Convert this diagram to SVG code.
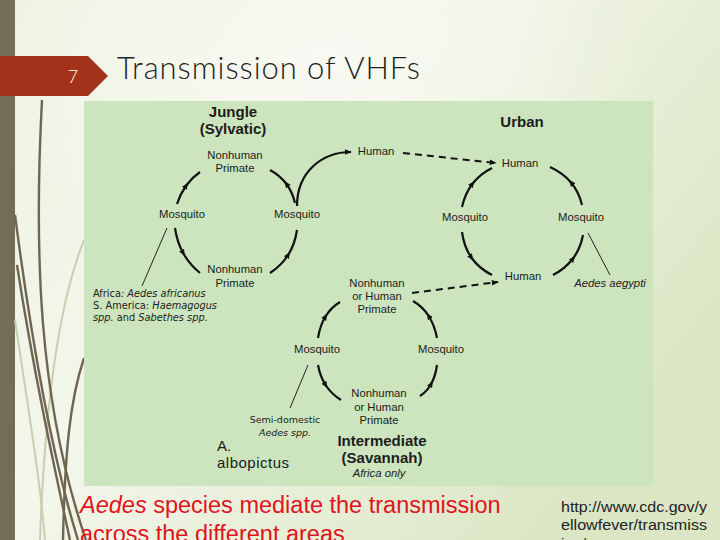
<svg xmlns="http://www.w3.org/2000/svg" width="720" height="540" viewBox="0 0 720 540">
  <defs>
    <linearGradient id="bg" x1="0" y1="0" x2="1" y2="0.6">
      <stop offset="0" stop-color="#eef3e2"/>
      <stop offset="0.45" stop-color="#f3f6ea"/>
      <stop offset="1" stop-color="#dbe6c4"/>
    </linearGradient>
    <radialGradient id="glow" cx="0.45" cy="0.12" r="0.45">
      <stop offset="0" stop-color="#f8faf3" stop-opacity="0.9"/>
      <stop offset="1" stop-color="#f8faf3" stop-opacity="0"/>
    </radialGradient>
    <marker id="mid" viewBox="0 0 10 10" refX="5" refY="5" markerWidth="7" markerHeight="7" markerUnits="userSpaceOnUse" orient="auto">
      <path d="M0,1 L10,5 L0,9 z" fill="#111"/>
    </marker>
    <marker id="head" viewBox="0 0 10 10" refX="9" refY="5" markerWidth="7" markerHeight="7" markerUnits="userSpaceOnUse" orient="auto">
      <path d="M0,1 L10,5 L0,9 z" fill="#111"/>
    </marker>
    <style>
      .lbl { font-family: "Liberation Sans", Arial, sans-serif; font-size: 11.3px; fill: #1c1c1c; text-anchor: middle; }
      .hdr { font-family: "Liberation Sans", Arial, sans-serif; font-size: 15px; font-weight: bold; fill: #1c1c1c; text-anchor: middle; }
      .vd { font-family: "DejaVu Sans", Verdana, sans-serif; fill: #1c1c1c; }
      .it { font-style: italic; }
      .arc { fill: none; stroke: #111; stroke-width: 2.2; marker-mid: url(#mid); }
      .ptr { fill: none; stroke: #222; stroke-width: 1; }
      .dash { fill: none; stroke: #111; stroke-width: 2; stroke-dasharray: 7 5; marker-end: url(#head); }
      .deco { fill: none; stroke: #6e6650; stroke-width: 2.4; }
      .decol { fill: none; stroke: #c9ceb3; stroke-width: 2; }
    </style>
  </defs>

  <!-- background -->
  <rect x="0" y="0" width="720" height="540" fill="url(#bg)"/>
  <rect x="0" y="0" width="720" height="540" fill="url(#glow)"/>
  <rect x="0" y="0" width="15" height="540" fill="#746c57"/>

  <!-- decorative strokes -->
  <g id="decoration">
    <path class="decol" d="M84,240 C60,300 45,400 40,540"/>
    <path class="decol" d="M15,320 C30,420 40,480 45,540"/>
    <path class="deco" d="M42,100 C34,250 38,400 86,540"/>
    <path class="deco" d="M15,215 C30,330 50,450 78,540"/>
    <path class="deco" d="M17,265 C35,380 55,470 70,540"/>
    <path class="deco" d="M84,358 C70,400 65,450 63,540"/>
  </g>

  <!-- header -->
  <g id="slide-number">
    <path d="M0,56 L88,56 L108,76 L88,96 L0,96 z" fill="#a3321a"/>
    <text x="73" y="83" font-family="Lato, 'Open Sans', sans-serif" font-weight="300" font-size="18" fill="#ffffff" text-anchor="middle">7</text>
  </g>
  <g id="title">
    <text x="117" y="79" font-family="Lato, 'Open Sans', sans-serif" font-weight="300" font-size="31" fill="#222222" textLength="303" lengthAdjust="spacing">Transmission of VHFs</text>
  </g>

  <!-- diagram panel -->
  <rect id="panel" x="84" y="101" width="569" height="385" fill="#cde5be"/>

  <!-- connectors -->
  <g id="connectors">
    <!-- Jungle cycle -->
    <path class="arc" d="M177,204 Q180.5,193.5 186.25,185.5 Q192,177.5 200,172"/>
    <path class="arc" d="M295,203 Q292.5,192 286.25,183.75 Q280,175.5 270,170"/>
    <path class="arc" d="M175,228 Q177,242 183.25,253.25 Q189.5,264.5 200,273"/>
    <path class="arc" d="M270,273 Q281.5,265.5 288.25,254.75 Q295,244 297,230"/>
    <path fill="none" stroke="#111" stroke-width="2.2" marker-end="url(#head)" d="M297,206 C297,172 322,152 351,152"/>
    <!-- Urban cycle -->
    <path class="arc" d="M462,207 Q465,193.5 472.5,183.75 Q480,174 492,168"/>
    <path class="arc" d="M582,205 Q579,192 571,182.5 Q563,173 550,167"/>
    <path class="arc" d="M462,232 Q464,247 471.5,257.75 Q479,268.5 492,275"/>
    <path class="arc" d="M553,275 Q565.5,268.5 573,258.5 Q580.5,248.5 583,235"/>
    <!-- Intermediate cycle -->
    <path class="arc" d="M318,338 Q320,325.5 325.5,316.5 Q331,307.5 340,302"/>
    <path class="arc" d="M437,338 Q434.5,325 428.5,315.75 Q422.5,306.5 413,301"/>
    <path class="arc" d="M318,365 Q320,376.5 325.75,385.25 Q331.5,394 341,400"/>
    <path class="arc" d="M420,396 Q427,391.5 431.25,383.75 Q435.5,376 437,365"/>
    <!-- dashed links -->
    <path class="dash" d="M403,153 L496,163"/>
    <path class="dash" d="M412,293 L498,282"/>
    <!-- species pointers -->
    <path class="ptr" d="M167,228 L142,286"/>
    <path class="ptr" d="M588,233 L610,275"/>
    <path class="ptr" d="M308,365 L290,408"/>
  </g>

  <!-- Jungle -->
  <g id="jungle-title">
    <text class="hdr" x="233" y="117">Jungle</text>
    <text class="hdr" x="233" y="134">(Sylvatic)</text>
  </g>
  <g id="jungle-primate-top">
    <text class="lbl" x="235" y="159">Nonhuman</text>
    <text class="lbl" x="235" y="172">Primate</text>
  </g>
  <g id="jungle-mosquito-left"><text class="lbl" x="182" y="218">Mosquito</text></g>
  <g id="jungle-mosquito-right"><text class="lbl" x="297" y="218">Mosquito</text></g>
  <g id="jungle-primate-bottom">
    <text class="lbl" x="235" y="273">Nonhuman</text>
    <text class="lbl" x="235" y="287">Primate</text>
  </g>
  <g id="jungle-human"><text class="lbl" x="376" y="155">Human</text></g>
  <g id="jungle-species">
    <text class="vd" x="93" y="297" font-size="9.8">Africa<tspan class="it">: Aedes africanus</tspan></text>
    <text class="vd" x="93" y="309" font-size="9.8">S. America: <tspan class="it">Haemagogus</tspan></text>
    <text class="vd" x="93" y="321" font-size="9.8"><tspan class="it">spp.</tspan> and <tspan class="it">Sabethes spp.</tspan></text>
  </g>

  <!-- Urban -->
  <g id="urban-title"><text class="hdr" x="522" y="127">Urban</text></g>
  <g id="urban-human-top"><text class="lbl" x="520" y="167">Human</text></g>
  <g id="urban-mosquito-left"><text class="lbl" x="465" y="221">Mosquito</text></g>
  <g id="urban-mosquito-right"><text class="lbl" x="581" y="221">Mosquito</text></g>
  <g id="urban-human-bottom"><text class="lbl" x="523" y="280">Human</text></g>
  <g id="urban-species"><text class="lbl it" x="610" y="287" font-size="11">Aedes aegypti</text></g>

  <!-- Intermediate -->
  <g id="intermediate-primate-top">
    <text class="lbl" x="377" y="287">Nonhuman</text>
    <text class="lbl" x="377" y="300">or Human</text>
    <text class="lbl" x="377" y="313">Primate</text>
  </g>
  <g id="intermediate-mosquito-left"><text class="lbl" x="317" y="353">Mosquito</text></g>
  <g id="intermediate-mosquito-right"><text class="lbl" x="441" y="353">Mosquito</text></g>
  <g id="intermediate-primate-bottom">
    <text class="lbl" x="379" y="397">Nonhuman</text>
    <text class="lbl" x="379" y="411">or Human</text>
    <text class="lbl" x="379" y="424">Primate</text>
  </g>
  <g id="intermediate-species">
    <text class="vd" x="285" y="423" font-size="9.5" text-anchor="middle">Semi-domestic</text>
    <text class="vd it" x="285" y="436" font-size="9.5" text-anchor="middle">Aedes spp.</text>
  </g>
  <g id="intermediate-title">
    <text class="hdr" x="382" y="446">Intermediate</text>
    <text class="hdr" x="382" y="463">(Savannah)</text>
    <text class="lbl it" x="379" y="477" font-size="10.5">Africa only</text>
  </g>
  <g id="albopictus">
    <text x="217" y="451" font-family="'Liberation Sans', Arial, sans-serif" font-size="15" fill="#1a1a1a">A.</text>
    <text x="217" y="468" font-family="'Liberation Sans', Arial, sans-serif" font-size="15" fill="#1a1a1a" textLength="72" lengthAdjust="spacing">albopictus</text>
  </g>

  <!-- caption -->
  <g id="caption">
    <text x="80" y="513" font-family="'Liberation Sans', Arial, sans-serif" font-size="23.5" fill="#e0141c"><tspan font-style="italic">Aedes</tspan> species mediate the transmission</text>
    <text x="80" y="542" font-family="'Liberation Sans', Arial, sans-serif" font-size="23.5" fill="#e0141c">across the different areas</text>
  </g>
  <g id="source">
    <text x="561" y="512" font-family="'Liberation Sans', Arial, sans-serif" font-size="15.5" fill="#222" textLength="146" lengthAdjust="spacingAndGlyphs">http://www.cdc.gov/y</text>
    <text x="561" y="530" font-family="'Liberation Sans', Arial, sans-serif" font-size="15.5" fill="#222" textLength="146" lengthAdjust="spacingAndGlyphs">ellowfever/transmiss</text>
    <text x="561" y="549" font-family="'Liberation Sans', Arial, sans-serif" font-size="15.5" fill="#222">ion/</text>
  </g>
</svg>
